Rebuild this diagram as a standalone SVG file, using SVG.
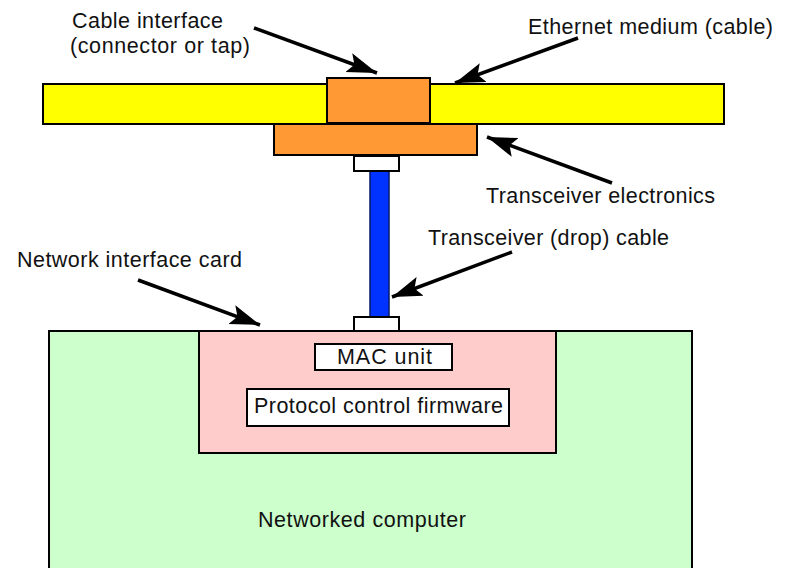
<svg xmlns="http://www.w3.org/2000/svg" width="787" height="568" viewBox="0 0 787 568">
<style>
text{font-family:"Liberation Sans",Arial,sans-serif;font-size:21.5px;fill:#111}
.box{stroke:#000;stroke-width:2}
.arrow{stroke:#000;stroke-width:3.5;fill:none}
</style>
<defs>
<marker id="ah" markerUnits="userSpaceOnUse" markerWidth="32" markerHeight="24" refX="30" refY="12" orient="auto">
<path d="M0,2 L30,12 L0,22 L6,12 Z" fill="#000"/>
</marker>
</defs>
<rect width="787" height="568" fill="#fff"/>
<g id="computer">
<rect class="box" x="49" y="331" width="643" height="250" fill="#CCFFCC"/>
<text x="258" y="527" textLength="208">Networked computer</text>
</g>
<g id="nic">
<rect class="box" x="199" y="331" width="357" height="122" fill="#FFCCCC"/>
</g>
<g id="mac">
<rect class="box" x="315" y="344" width="137" height="26" fill="#fff"/>
<text x="337" y="364" textLength="95">MAC unit</text>
</g>
<g id="firmware">
<rect class="box" x="247" y="389" width="262" height="37" fill="#fff"/>
<text x="254" y="413" textLength="249">Protocol control firmware</text>
</g>
<g id="drop-cable">
<rect x="370" y="170" width="19" height="147" fill="#0033FF" stroke="#001a66" stroke-width="1.5"/>
</g>
<g id="nic-connector">
<rect class="box" x="354" y="317" width="45" height="14" fill="#fff"/>
</g>
<g id="ethernet-cable">
<rect class="box" x="43" y="84" width="681" height="40" fill="#FFFF00"/>
</g>
<g id="transceiver">
<rect class="box" x="274" y="124" width="203" height="31" fill="#FF9933"/>
</g>
<g id="cable-interface">
<rect class="box" x="327" y="78" width="103" height="45" fill="#FF9933"/>
</g>
<g id="transceiver-connector">
<rect class="box" x="354" y="156" width="45" height="15" fill="#fff"/>
</g>
<g id="labels">
<text x="72" y="28" textLength="151">Cable interface</text>
<text x="70" y="53" textLength="180">(connector or tap)</text>
<text x="528" y="34" textLength="245">Ethernet medium (cable)</text>
<text x="486" y="203" textLength="229">Transceiver electronics</text>
<text x="428" y="245" textLength="241">Transceiver (drop) cable</text>
<text x="17" y="267" textLength="225">Network interface card</text>
</g>
<g id="connectors">
<line class="arrow" x1="254" y1="28" x2="377" y2="73" marker-end="url(#ah)"/>
<line class="arrow" x1="578" y1="38" x2="455" y2="83" marker-end="url(#ah)"/>
<line class="arrow" x1="612" y1="183" x2="487" y2="137" marker-end="url(#ah)"/>
<line class="arrow" x1="512" y1="252" x2="392" y2="297" marker-end="url(#ah)"/>
<line class="arrow" x1="138" y1="280" x2="260" y2="325" marker-end="url(#ah)"/>
</g>
</svg>
